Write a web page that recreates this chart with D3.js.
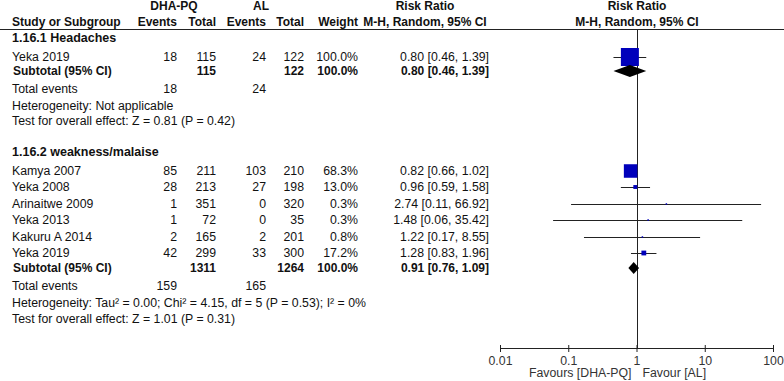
<!DOCTYPE html>
<html>
<head>
<meta charset="utf-8">
<script src="https://cdn.jsdelivr.net/npm/d3@7"></script>
<style>
  body { margin: 0; background: #fff; }
  svg { display: block; font-family: "Liberation Sans", Arial, sans-serif; }
</style>
</head>
<body>
<div id="chart"></div>
<script>
// subgroup 1: headaches
const studies1 = ["Yeka 2019"];
const dhaEvents1 = [18];
const dhaTotal1 = [115];
const alEvents1 = [24];
const alTotal1 = [122];
const weights1 = [100.0];
const rr1 = [0.80];
const lo1 = [0.46];
const hi1 = [1.39];
const sub1 = { dhaTotal: 115, alTotal: 122, weight: "100.0%", rr: 0.80, lo: 0.46, hi: 1.39, dhaEv: 18, alEv: 24 };

// subgroup 2: weakness/malaise
const studies2 = ["Kamya 2007", "Yeka 2008", "Arinaitwe 2009", "Yeka 2013", "Kakuru A 2014", "Yeka 2019"];
const dhaEvents2 = [85, 28, 1, 1, 2, 42];
const dhaTotal2 = [211, 213, 351, 72, 165, 299];
const alEvents2 = [103, 27, 0, 0, 2, 33];
const alTotal2 = [210, 198, 320, 35, 201, 300];
const weights2 = [68.3, 13.0, 0.3, 0.3, 0.8, 17.2];
const rr2 = [0.82, 0.96, 2.74, 1.48, 1.22, 1.28];
const lo2 = [0.66, 0.59, 0.11, 0.06, 0.17, 0.83];
const hi2 = [1.02, 1.58, 66.92, 35.42, 8.55, 1.96];
const sub2 = { dhaTotal: 1311, alTotal: 1264, weight: "100.0%", rr: 0.91, lo: 0.76, hi: 1.09, dhaEv: 159, alEv: 165 };

const axisTicks = [0.01, 0.1, 1, 10, 100];
const tickLabels = ["0.01", "0.1", "1", "10", "100"];

const width = 784, height = 381;
const fmt = d3.format(".2f");

const svg = d3.select("#chart").append("svg")
  .attr("width", width).attr("height", height);

const x = d3.scaleLog().domain([0.01, 100]).range([500, 773]);

// right edges of the table columns
const col = { dhaEv: 177, dhaTot: 216, alEv: 266, alTot: 304, weight: 358, ci: 489 };

function txt(xp, yp, s, opts = {}) {
  return svg.append("text")
    .attr("x", xp).attr("y", yp)
    .attr("dy", "0.35em")
    .attr("text-anchor", opts.anchor || "start")
    .attr("font-size", opts.size || (opts.bold ? 12 : 12.3))
    .attr("font-weight", opts.bold ? "bold" : "normal")
    .attr("fill", opts.fill || "#111")
    .text(s);
}

// header
txt(174, 6, "DHA-PQ", { anchor: "middle", bold: true });
txt(261, 6, "AL", { anchor: "middle", bold: true });
txt(425, 6, "Risk Ratio", { anchor: "middle", bold: true });
txt(637, 6, "Risk Ratio", { anchor: "middle", bold: true });
txt(12, 22, "Study or Subgroup", { bold: true });
txt(col.dhaEv, 22, "Events", { anchor: "end", bold: true });
txt(col.dhaTot, 22, "Total", { anchor: "end", bold: true });
txt(col.alEv, 22, "Events", { anchor: "end", bold: true });
txt(col.alTot, 22, "Total", { anchor: "end", bold: true });
txt(col.weight, 22, "Weight", { anchor: "end", bold: true });
txt(425, 22, "M-H, Random, 95% CI", { anchor: "middle", bold: true });
txt(637, 22, "M-H, Random, 95% CI", { anchor: "middle", bold: true });

svg.append("line")
  .attr("x1", 0).attr("x2", width).attr("y1", 29.5).attr("y2", 29.5)
  .attr("stroke", "#222").attr("stroke-width", 1);

// line of no effect
svg.append("line")
  .attr("x1", Math.round(x(1)) + 0.5).attr("x2", Math.round(x(1)) + 0.5)
  .attr("y1", 30).attr("y2", 348)
  .attr("stroke", "#222").attr("stroke-width", 1);

function studyRow(yp, name, de, dt, ae, at, w, r, l, h) {
  txt(12, yp, name);
  txt(col.dhaEv, yp, de, { anchor: "end" });
  txt(col.dhaTot, yp, dt, { anchor: "end" });
  txt(col.alEv, yp, ae, { anchor: "end" });
  txt(col.alTot, yp, at, { anchor: "end" });
  txt(col.weight, yp, w.toFixed(1) + "%", { anchor: "end" });
  txt(col.ci, yp, fmt(r) + " [" + fmt(l) + ", " + fmt(h) + "]", { anchor: "end" });

  const cx = x(Math.max(r, 0.01));
  svg.append("line")
    .attr("x1", x(Math.max(l, 0.01))).attr("x2", x(Math.min(h, 100)))
    .attr("y1", yp + 0.5).attr("y2", yp + 0.5)
    .attr("stroke", "#222").attr("stroke-width", 1);
  // square area grows with study weight
  const s = Math.max(1.5, 18 * Math.pow(w / 100, 0.75));
  svg.append("rect")
    .attr("x", cx - s / 2).attr("y", yp - s / 2)
    .attr("width", s).attr("height", s)
    .attr("fill", "#0000bb");
}

function subtotalRow(yp, sub) {
  txt(13, yp, "Subtotal (95% CI)", { bold: true });
  txt(col.dhaTot, yp, sub.dhaTotal, { anchor: "end", bold: true });
  txt(col.alTot, yp, sub.alTotal, { anchor: "end", bold: true });
  txt(col.weight, yp, sub.weight, { anchor: "end", bold: true });
  txt(col.ci, yp, fmt(sub.rr) + " [" + fmt(sub.lo) + ", " + fmt(sub.hi) + "]", { anchor: "end", bold: true });
  const hh = 6;
  const pts = [[x(sub.lo), yp], [x(sub.rr), yp - hh], [x(sub.hi), yp], [x(sub.rr), yp + hh]];
  svg.append("path")
    .attr("d", d3.line()(pts) + "Z")
    .attr("fill", "#000");
}

// subgroup 1
txt(12, 38, "1.16.1 Headaches", { bold: true, size: 12.5 });
const rows1Y = [57];
studies1.forEach((s, i) => studyRow(rows1Y[i], s, dhaEvents1[i], dhaTotal1[i], alEvents1[i], alTotal1[i], weights1[i], rr1[i], lo1[i], hi1[i]));
subtotalRow(71, sub1);
txt(12, 89, "Total events");
txt(col.dhaEv, 89, sub1.dhaEv, { anchor: "end" });
txt(col.alEv, 89, sub1.alEv, { anchor: "end" });
txt(12, 106, "Heterogeneity: Not applicable");
txt(12, 121, "Test for overall effect: Z = 0.81 (P = 0.42)");

// subgroup 2
txt(12, 152, "1.16.2 weakness/malaise", { bold: true, size: 12.5 });
const rows2Y = [171, 187, 204, 220, 237, 253];
studies2.forEach((s, i) => studyRow(rows2Y[i], s, dhaEvents2[i], dhaTotal2[i], alEvents2[i], alTotal2[i], weights2[i], rr2[i], lo2[i], hi2[i]));
subtotalRow(268, sub2);
txt(12, 286, "Total events");
txt(col.dhaEv, 286, sub2.dhaEv, { anchor: "end" });
txt(col.alEv, 286, sub2.alEv, { anchor: "end" });
txt(12, 303, "Heterogeneity: Tau\u00b2 = 0.00; Chi\u00b2 = 4.15, df = 5 (P = 0.53); I\u00b2 = 0%");
txt(12, 319, "Test for overall effect: Z = 1.01 (P = 0.31)");

// x axis
const axisY = 348;
const axis = svg.append("g")
  .attr("transform", "translate(0," + axisY + ")")
  .call(d3.axisBottom(x).tickValues(axisTicks).tickFormat((d, i) => tickLabels[i]).tickSize(4).tickPadding(4).tickSizeOuter(0));
axis.select(".domain").attr("stroke", "#222");
axis.selectAll(".tick line").attr("y1", -3).attr("y2", 4).attr("stroke", "#222");
axis.selectAll(".tick text")
  .attr("font-family", "'Liberation Sans', Arial, sans-serif")
  .attr("font-size", 12.3).attr("fill", "#333");

txt(x(1) - 5, 373, "Favours [DHA-PQ]", { anchor: "end", fill: "#333" });
txt(x(1) + 6, 373, "Favour [AL]", { fill: "#333" });
</script>
</body>
</html>
